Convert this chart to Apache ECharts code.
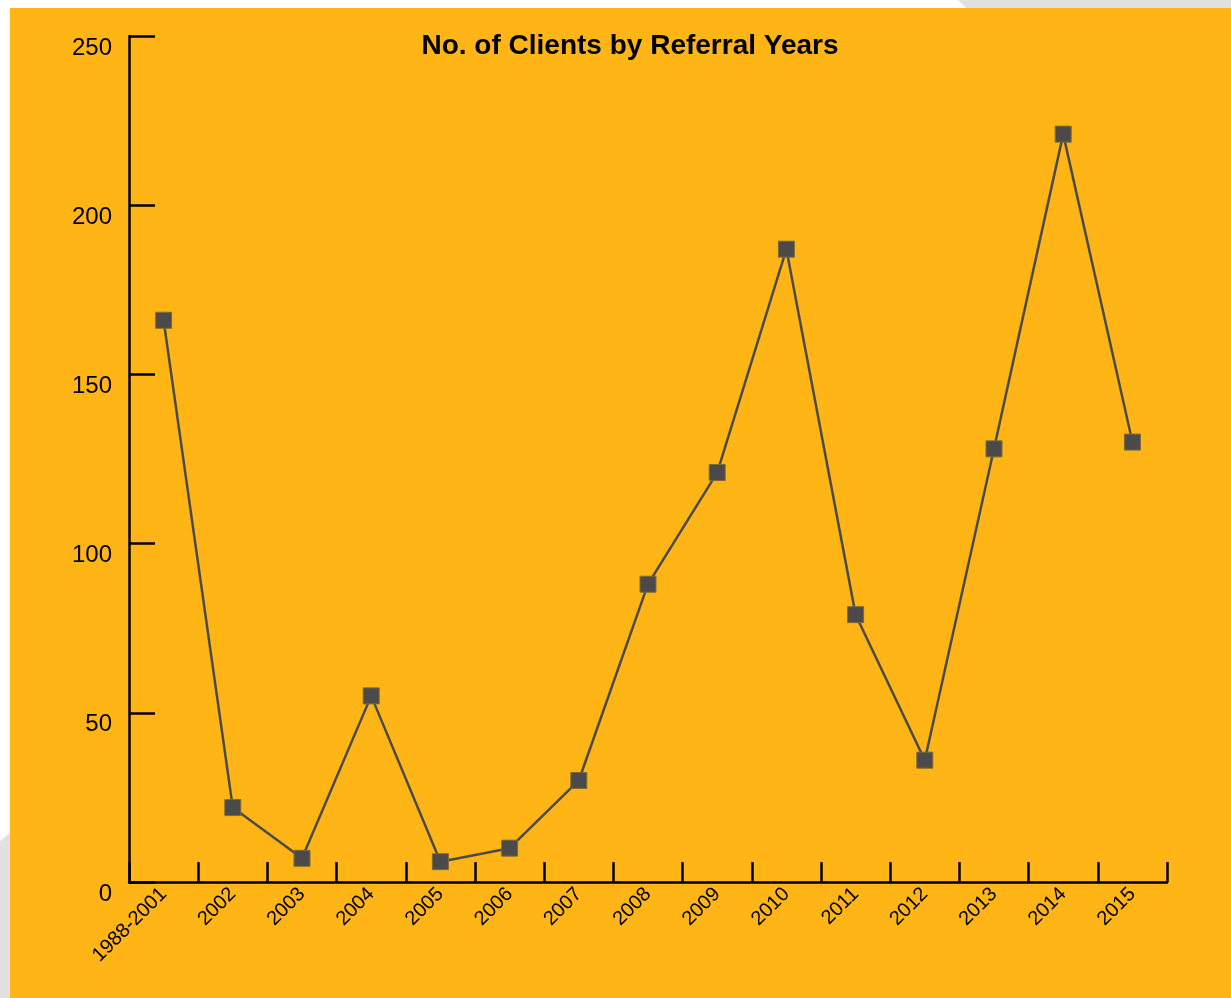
<!DOCTYPE html>
<html>
<head>
<meta charset="utf-8">
<script src="https://cdn.jsdelivr.net/npm/echarts@6/dist/echarts.min.js"></script>
<style>
html,body{margin:0;padding:0;background:#ffffff;}
#chart{width:1231px;height:998px;}
</style>
</head>
<body>
<div id="chart"></div>
<script>
const titleText = 'No. of Clients by Referral Years';
const categories = ['1988-2001','2002','2003','2004','2005','2006','2007','2008','2009','2010','2011','2012','2013','2014','2015'];
const clients = [166, 22, 7, 55, 6, 10, 30, 88, 121, 187, 79, 36, 128, 221, 130];
const yTicks = [0, 50, 100, 150, 200, 250];

const chart = echarts.init(document.getElementById('chart'));
chart.setOption({
  backgroundColor: '#ffffff',
  animation: false,
  graphic: [
    { type: 'polygon', z: -10, shape: { points: [[958,0],[1231,0],[1231,8],[966,8]] }, style: { fill: '#e1e1e2' } },
    { type: 'polygon', z: -10, shape: { points: [[0,841],[10,833],[10,998],[0,998]] }, style: { fill: '#e1e1e2' } },
    { type: 'rect', z: -9, shape: { x: 10, y: 8, width: 1221, height: 990 }, style: { fill: '#feb515' } }
  ],
  title: {
    text: titleText,
    left: 625,
    textAlign: 'center',
    top: 27,
    textStyle: { fontFamily: 'Liberation Sans, Arial, sans-serif', fontSize: 28, fontWeight: 'bold', color: '#000' }
  },
  grid: { left: 129, right: 64, top: 36, bottom: 116, containLabel: false },
  xAxis: {
    type: 'category',
    data: categories,
    boundaryGap: true,
    axisLine: { show: true, lineStyle: { color: '#000', width: 2.5 } },
    axisTick: { show: true, inside: true, length: 20, alignWithLabel: false, lineStyle: { color: '#000', width: 2.5 } },
    axisLabel: {
      rotate: 45, margin: 9, color: '#000', fontSize: 20,
      fontFamily: 'Liberation Sans, Arial, sans-serif', interval: 0
    },
    splitLine: { show: false }
  },
  yAxis: {
    type: 'value',
    min: yTicks[0],
    max: yTicks[yTicks.length - 1],
    interval: 50,
    axisLine: { show: true, lineStyle: { color: '#000', width: 2.5 } },
    axisTick: { show: true, inside: true, length: 26, lineStyle: { color: '#000', width: 2.5 } },
    axisLabel: {
      margin: 17, color: '#000', fontSize: 24,
      fontFamily: 'Liberation Sans, Arial, sans-serif',
      verticalAlign: 'top'
    },
    splitLine: { show: false }
  },
  series: [{
    type: 'line',
    data: clients,
    symbol: 'rect',
    symbolSize: 16,
    lineStyle: { color: '#4a4a4a', width: 2.5 },
    itemStyle: { color: '#4a4a4a', borderColor: '#7d6a35', borderWidth: 1 }
  }]
});
</script>
</body>
</html>
